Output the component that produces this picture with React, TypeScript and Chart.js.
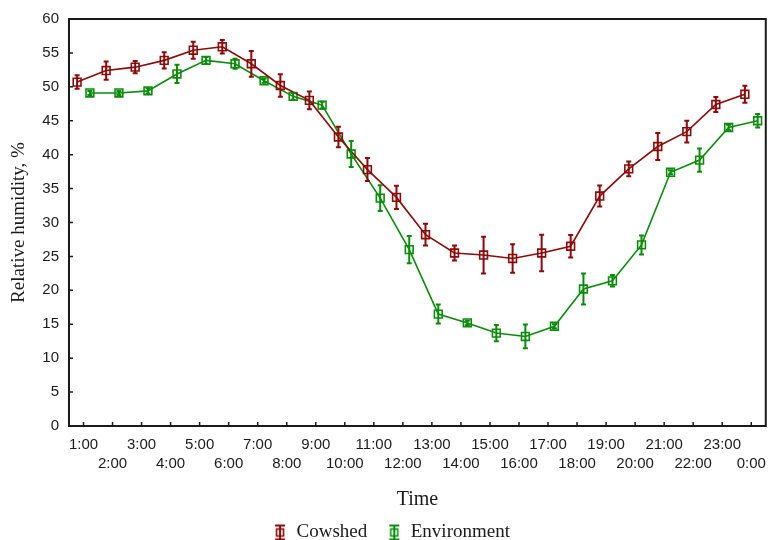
import React, { useEffect, useRef } from 'react';
import { Chart, registerables } from 'chart.js';

Chart.register(...registerables);

const hours = ['1:00', '2:00', '3:00', '4:00', '5:00', '6:00', '7:00', '8:00', '9:00', '10:00', '11:00', '12:00',
  '13:00', '14:00', '15:00', '16:00', '17:00', '18:00', '19:00', '20:00', '21:00', '22:00', '23:00', '0:00'];
const cowshed = [50.7, 52.4, 52.9, 53.9, 55.4, 55.9, 53.4, 50.2, 48.0, 42.6, 37.8, 33.7,
  28.2, 25.5, 25.2, 24.7, 25.5, 26.5, 33.9, 37.9, 41.2, 43.4, 47.4, 48.9];
const cowshedErr = [1.0, 1.35, 0.9, 1.2, 1.25, 1.0, 1.9, 1.65, 1.3, 1.5, 1.7, 1.7,
  1.6, 1.1, 2.7, 2.1, 2.7, 1.65, 1.55, 1.1, 2.0, 1.6, 1.1, 1.25];
const environment = [49.1, 49.1, 49.4, 51.9, 53.9, 53.4, 50.9, 48.6, 47.3, 40.1, 33.6, 26.0,
  16.5, 15.2, 13.7, 13.2, 14.7, 20.2, 21.4, 26.7, 37.4, 39.2, 44.0, 45.0];
const environmentErr = [0.3, 0.3, 0.4, 1.35, 0.5, 0.75, 0.3, 0.5, 0.5, 1.9, 1.9, 2.0,
  1.4, 0.3, 1.2, 1.75, 0.3, 2.3, 0.85, 1.4, 0.3, 1.7, 0.4, 1.0];
const yTicks = [0, 5, 10, 15, 20, 25, 30, 35, 40, 45, 50, 55, 60];

const RED = '#8c0a0a';
const GREEN = '#0a8c0a';
const AXIS = '#1a1a1a';
const SERIF = '"Liberation Serif", "Times New Roman", serif';
const SANS = '"Liberation Sans", Arial, sans-serif';

function legendIcon(color: string) {
  const c = document.createElement('canvas');
  c.width = 14;
  c.height = 18;
  const g = c.getContext('2d')!;
  g.strokeStyle = color;
  g.lineWidth = 2;
  g.beginPath();
  g.moveTo(7, 1); g.lineTo(7, 17);
  g.moveTo(2, 2); g.lineTo(12, 2);
  g.moveTo(2, 16); g.lineTo(12, 16);
  g.stroke();
  g.lineWidth = 1.6;
  g.strokeRect(3.5, 5.5, 7, 7);
  return c;
}

const errorBars = {
  id: 'errorBars',
  afterDatasetsDraw(chart: any) {
    const ctx = chart.ctx;
    const y = chart.scales.y;
    chart.data.datasets.forEach((ds: any, di: number) => {
      const meta = chart.getDatasetMeta(di);
      const errs: number[] = ds.errors;
      ctx.save();
      ctx.strokeStyle = ds.borderColor;
      ctx.lineWidth = 2;
      meta.data.forEach((pt: any, i: number) => {
        const v = ds.data[i].y;
        const e = errs[i];
        const top = y.getPixelForValue(v + e);
        const bot = y.getPixelForValue(v - e);
        const x = pt.x;
        ctx.beginPath();
        ctx.moveTo(x, top); ctx.lineTo(x, bot);
        ctx.moveTo(x - 2.5, top); ctx.lineTo(x + 2.5, top);
        ctx.moveTo(x - 2.5, bot); ctx.lineTo(x + 2.5, bot);
        ctx.stroke();
      });
      ctx.restore();
    });
  },
};

const frame = {
  id: 'frame',
  afterDraw(chart: any) {
    const { ctx, chartArea: a, scales } = chart;
    ctx.save();
    ctx.strokeStyle = AXIS;
    ctx.lineWidth = 2;
    ctx.strokeRect(a.left, a.top, a.right - a.left, a.bottom - a.top);
    ctx.lineWidth = 1.5;
    ctx.beginPath();
    hours.forEach((_, i) => {
      const x = scales.x.getPixelForValue(i);
      ctx.moveTo(x, a.bottom); ctx.lineTo(x, a.bottom - 4);
    });
    yTicks.forEach((v) => {
      const yy = scales.y.getPixelForValue(v);
      ctx.moveTo(a.left, yy); ctx.lineTo(a.left + 4, yy);
    });
    ctx.stroke();
    ctx.restore();
  },
};

export default function App() {
  const ref = useRef<HTMLCanvasElement>(null);
  useEffect(() => {
    const icons = [legendIcon(RED), legendIcon(GREEN)];
    const chart = new Chart(ref.current!, {
      type: 'line',
      data: {
        datasets: [
          {
            label: 'Cowshed',
            data: cowshed.map((v, i) => ({ x: i - 0.22, y: v })),
            errors: cowshedErr,
            borderColor: RED,
            backgroundColor: 'rgba(0,0,0,0)',
            borderWidth: 1.6,
            pointStyle: 'rect',
            pointRadius: 5.5,
            pointBorderWidth: 1.6,
            pointBackgroundColor: 'rgba(0,0,0,0)',
          } as any,
          {
            label: 'Environment',
            data: environment.map((v, i) => ({ x: i + 0.22, y: v })),
            errors: environmentErr,
            borderColor: GREEN,
            backgroundColor: 'rgba(0,0,0,0)',
            borderWidth: 1.6,
            pointStyle: 'rect',
            pointRadius: 5.5,
            pointBorderWidth: 1.6,
            pointBackgroundColor: 'rgba(0,0,0,0)',
          } as any,
        ],
      },
      options: {
        animation: false,
        responsive: false,
        maintainAspectRatio: false,
        layout: { padding: { left: 8, right: 0, top: 11, bottom: -12 } },
        scales: {
          x: {
            type: 'linear',
            min: -0.5,
            max: 23.5,
            afterBuildTicks: (s: any) => {
              s.ticks = hours.map((_, i) => ({ value: i }));
            },
            grid: { display: false, drawTicks: false },
            border: { display: false },
            ticks: {
              autoSkip: false,
              maxRotation: 0,
              padding: 9,
              color: AXIS,
              font: { family: SANS, size: 15, lineHeight: 1.3 },
              callback: (v: any) => {
                const i = Math.round(Number(v));
                const l = hours[i];
                return i % 2 === 0 ? l : ['', l];
              },
            },
            title: {
              display: true,
              text: 'Time',
              color: AXIS,
              font: { family: SERIF, size: 20 },
              padding: { top: 5, bottom: -9 },
            },
          },
          y: {
            min: 0,
            max: 60,
            afterBuildTicks: (s: any) => {
              s.ticks = yTicks.map((v) => ({ value: v }));
            },
            grid: { display: false, drawTicks: false },
            border: { display: false },
            ticks: {
              padding: 10,
              color: AXIS,
              font: { family: SANS, size: 15 },
            },
            title: {
              display: true,
              text: 'Relative humidity, %',
              color: AXIS,
              font: { family: SERIF, size: 19 },
              padding: { top: 0, bottom: 1.5 },
            },
          },
        },
        plugins: {
          tooltip: { enabled: false },
          legend: {
            position: 'bottom',
            labels: {
              usePointStyle: true,
              pointStyleWidth: 14,
              color: AXIS,
              padding: 20,
              font: { family: SERIF, size: 19 },
              generateLabels: (chart: any) =>
                chart.data.datasets.map((ds: any, i: number) => ({
                  text: ds.label,
                  pointStyle: icons[i],
                  fillStyle: 'rgba(0,0,0,0)',
                  strokeStyle: ds.borderColor,
                  fontColor: AXIS,
                  lineWidth: 0,
                  hidden: false,
                  datasetIndex: i,
                })),
            },
          },
        },
      } as any,
      plugins: [errorBars, frame],
    });
    return () => chart.destroy();
  }, []);
  return (
    <div style={{ position: 'fixed', left: 0, top: 0, width: 768, height: 540, overflow: 'hidden', background: '#fff' }}>
      <canvas ref={ref} width={775} height={540} style={{ width: 775, height: 540, display: 'block' }} />
    </div>
  );
}
